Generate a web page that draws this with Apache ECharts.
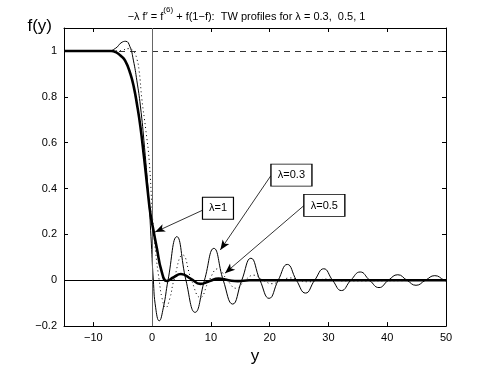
<!DOCTYPE html>
<html>
<head>
<meta charset="utf-8">
<script src="https://cdn.jsdelivr.net/npm/echarts@6/dist/echarts.min.js"></script>
<style>
  html, body { margin: 0; padding: 0; background: #fff; }
  #chart-container { width: 493px; height: 370px; }
</style>
</head>
<body>
<div id="chart-container"></div>
<script>
// 曲线数据
const x03 = [-15, -7.5, -6.2, -5.3, -4.5, -3.8, -3.2, -2.6, -2.0, -1.3, -0.6, -0.2, 0.2, 0.6, 1.2, 1.9, 2.7, 4.2, 5.75, 7.3, 8.9, 10.5, 12.1, 13.7, 15.25, 16.8, 18.35, 19.9, 21.45, 23.0, 24.55, 26.1, 27.65, 29.2, 30.7, 32.2, 33.8, 35.4, 37.0, 38.6, 40.2, 41.8, 43.35, 44.9, 46.5, 48.1, 49.7, 50];
const f03 = [1, 1, 1.012, 1.035, 1.042, 1.02, 0.96, 0.87, 0.76, 0.58, 0.36, 0.19, 0.0, -0.12, -0.177, -0.12, 0, 0.19, 0, -0.14, 0, 0.139, 0, -0.104, 0, 0.096, 0, -0.079, 0, 0.069, 0, -0.056, 0, 0.050, 0, -0.045, 0, 0.036, 0, -0.032, 0, 0.024, 0, -0.022, 0, 0.020, 0, -0.003];

const x05 = [-15, -6, -5, -4, -3.2, -2.6, -2.2, -1.75, -1.1, -0.5, 0.1, 0.6, 1.2, 1.7, 2.3, 3.0, 3.7, 5.2, 6.7, 8.2, 9.7, 11.2, 12.8, 14.3, 15.8, 17.3, 18.9, 20.4, 22.0, 23.5, 25.0, 26.6, 28.1, 29.7, 31.2, 32.8, 50];
const f05 = [1, 1, 1.004, 1.01, 1.0, 0.965, 0.91, 0.79, 0.66, 0.52, 0.26, 0.12, 0, -0.08, -0.12, -0.08, 0, 0.11, 0, -0.075, 0, 0.05, 0, -0.035, 0, 0.022, 0, -0.015, 0, 0.01, 0, -0.007, 0, 0.005, 0, -0.003, 0];

const x1 = [-15, -7, -6.2, -5.4, -4.6, -3.7, -3.1, -2.6, -2.0, -1.4, -0.8, -0.3, 0.2, 0.8, 1.6, 2.5, 3.6, 4.9, 6.6, 8.2, 9.8, 11.3, 13.0, 14.6, 16.5, 50];
const f1 = [1, 1, 0.995, 0.98, 0.958, 0.90, 0.84, 0.77, 0.67, 0.54, 0.40, 0.29, 0.22, 0.14, 0.04, -0.003, 0.012, 0.027, 0.006, -0.016, -0.003, 0.007, 0, -0.004, 0, 0];

// 坐标轴范围
const xRange = [-15, 50];
const yRange = [-0.2, 1.1];

// 标注: 文字, 方框位置, 箭头起点, 箭头终点
const noteText = ['λ=1', 'λ=0.3', 'λ=0.5'];
const noteBox = [[11.2, 0.314], [23.7, 0.458], [29.3, 0.326]];
const noteFrom = [[8.55, 0.305], [20.2, 0.456], [25.85, 0.326]];
const noteTo = [[0.5, 0.21], [11.6, 0.132], [12.4, 0.031]];

const FONT = 'Liberation Sans, Arial, Helvetica, sans-serif';
const zip = (xs, ys) => xs.map((x, i) => [x, ys[i]]);
const minus = s => String(s).replace('-', '\u2212');

const boxAxis = {
  axisLine: { onZero: false, lineStyle: { color: '#000', width: 1 } },
  axisTick: { inside: true, length: 4, lineStyle: { color: '#000' } },
  splitLine: { show: false }
};

const chartOption = {
  animation: false,
  backgroundColor: '#fff',
  title: {
    text: '{a|\u2212λ f\u2032 = f}{s|(6)}{a| + f(1\u2212f):  TW profiles for λ = 0.3,  0.5, 1}',
    left: 'center',
    top: 1,
    textStyle: {
      fontWeight: 'normal',
      rich: {
        a: { fontSize: 11, fontFamily: FONT, fontWeight: 'normal', color: '#000', verticalAlign: 'bottom', lineHeight: 16 },
        s: { fontSize: 8, fontFamily: FONT, fontWeight: 'normal', color: '#000', verticalAlign: 'top', lineHeight: 16 }
      }
    }
  },
  grid: { left: 64, right: 47, top: 28, bottom: 41, containLabel: false },
  xAxis: [Object.assign({
    type: 'value', min: xRange[0], max: xRange[1], minInterval: 10, maxInterval: 10,
    name: 'y', nameLocation: 'middle', nameGap: 20,
    nameTextStyle: { fontSize: 17, fontFamily: FONT, color: '#000' },
    axisLabel: { margin: 6, fontSize: 11, fontFamily: FONT, color: '#000',
      formatter: v => (v === xRange[0] ? '' : minus(v)) }
  }, boxAxis), Object.assign({
    type: 'value', position: 'top', min: xRange[0], max: xRange[1], minInterval: 10, maxInterval: 10,
    axisLabel: { show: false }
  }, boxAxis)],
  yAxis: [Object.assign({
    type: 'value', min: yRange[0], max: yRange[1], interval: 0.2,
    name: 'f(y)', nameLocation: 'end', nameGap: 2,
    nameTextStyle: { fontSize: 17, fontFamily: FONT, color: '#000', align: 'right', verticalAlign: 'middle', padding: [0, 12, 0, 0] },
    axisLabel: { margin: 7, fontSize: 11, fontFamily: FONT, color: '#000',
      formatter: v => {
        const r = Number(v.toFixed(1));
        return r > 1 ? '' : minus(r);
      } }
  }, boxAxis), Object.assign({
    type: 'value', position: 'right', min: yRange[0], max: yRange[1], interval: 0.2,
    axisLabel: { show: false }
  }, boxAxis)],
  series: [
    {
      name: 'λ=0.5', type: 'line', data: zip(x05, f05), smooth: 0.5, showSymbol: false,
      lineStyle: { color: '#000', width: 1, type: [1, 3] }, z: 3
    },
    {
      name: 'λ=0.3', type: 'line', data: zip(x03, f03), smooth: 0.5, showSymbol: false,
      lineStyle: { color: '#000', width: 1 }, z: 4,
      markLine: {
        silent: true, symbol: 'none', label: { show: false },
        data: [
          { yAxis: 0, lineStyle: { color: '#000', width: 1, type: 'solid' } },
          { yAxis: 1, lineStyle: { color: '#000', width: 0.8, type: [6, 5] } },
          { xAxis: 0, lineStyle: { color: '#666', width: 1, type: 'solid' } }
        ]
      }
    },
    {
      name: 'λ=1', type: 'line', data: zip(x1, f1), smooth: 0.5, showSymbol: false,
      lineStyle: { color: '#000', width: 2.6 }, z: 5,
      markLine: {
        silent: true, symbol: ['none', 'arrow'], symbolSize: [6, 10], label: { show: false },
        lineStyle: { color: '#000', width: 0.8, type: 'solid' },
        data: noteText.map((t, i) => [{ coord: noteFrom[i] }, { coord: noteTo[i] }])
      },
      markPoint: {
        silent: true,
        data: noteText.map((t, i) => ({
          coord: noteBox[i], symbol: 'rect',
          symbolSize: [t.length > 3 ? 41 : 31, 22],
          itemStyle: { color: '#fff', borderColor: '#000', borderWidth: 1 },
          label: { show: true, position: 'inside', formatter: t, color: '#000', fontSize: 11, fontFamily: FONT }
        }))
      }
    }
  ]
};

const chart = echarts.init(document.getElementById('chart-container'));
chart.setOption(chartOption);
</script>
</body>
</html>
